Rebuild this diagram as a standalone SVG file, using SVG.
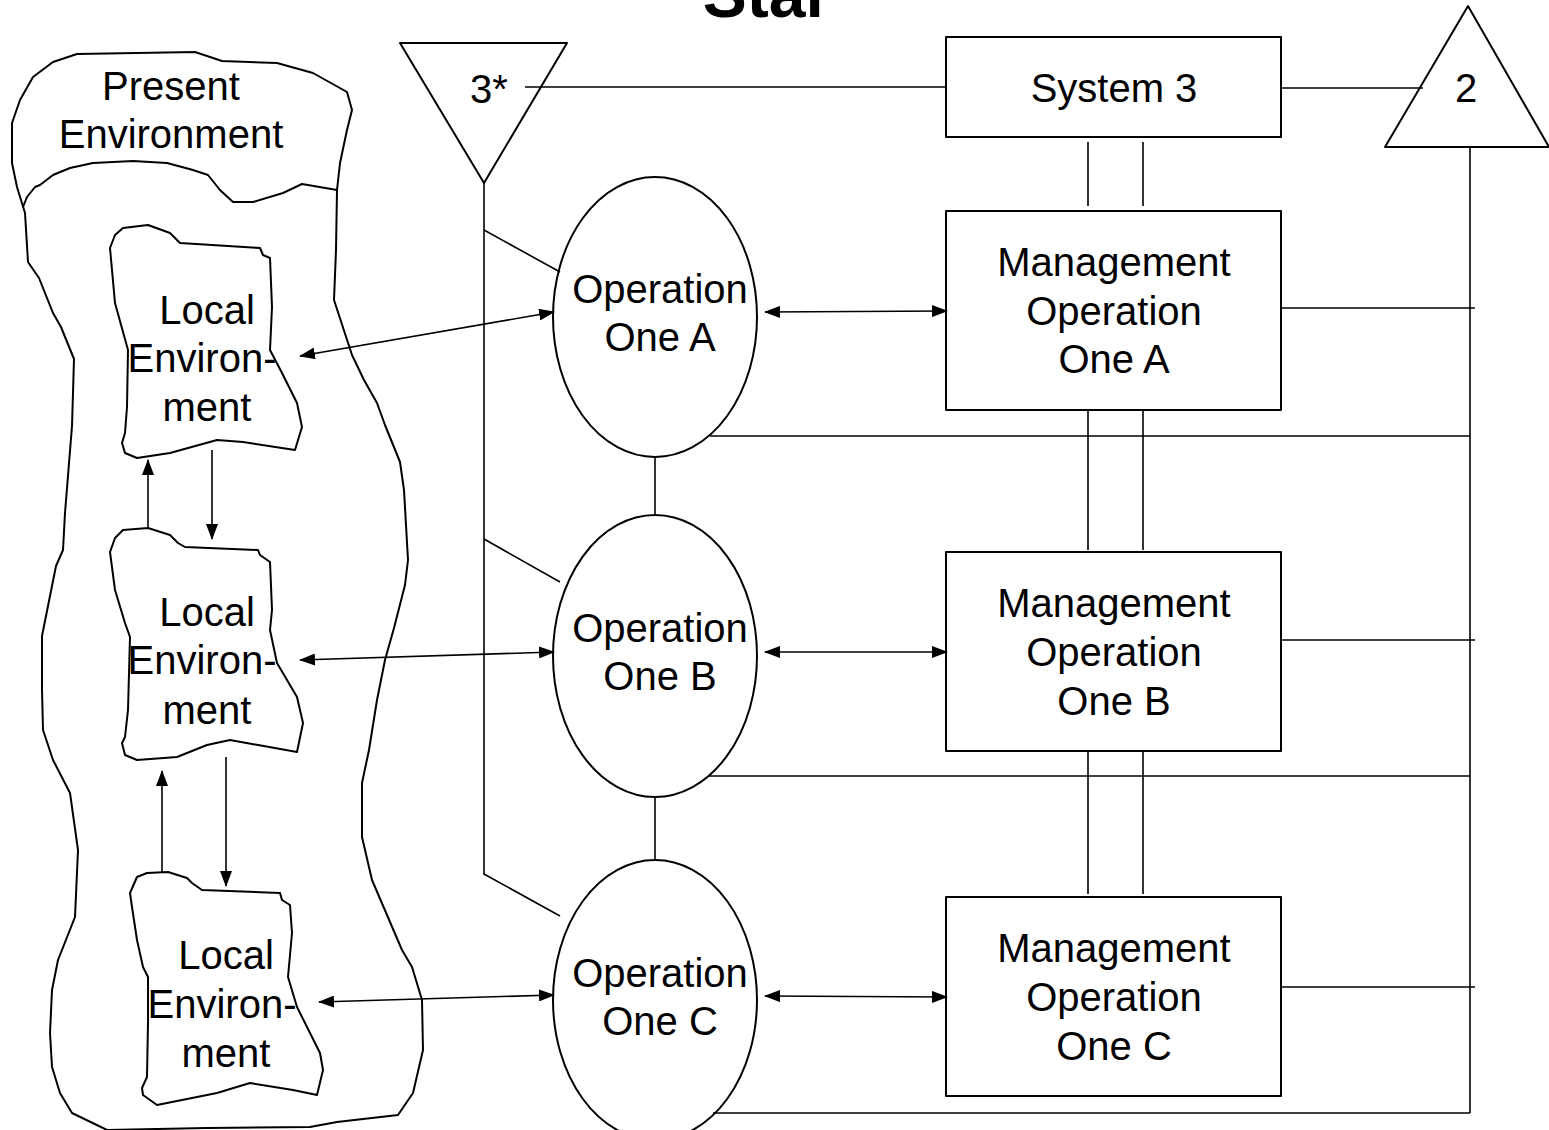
<svg xmlns="http://www.w3.org/2000/svg" width="1549" height="1130" viewBox="0 0 1549 1130">
<style>
.s{fill:none;stroke:#000;stroke-width:2;stroke-linejoin:round}
.b{fill:#fff;stroke:#000;stroke-width:2;stroke-linejoin:round}
.c{fill:none;stroke:#000;stroke-width:1.6}
.t{font-family:"Liberation Sans",Arial,sans-serif;font-size:40px;text-anchor:middle;fill:#000}
.h{font-family:"Liberation Sans",Arial,sans-serif;font-size:66px;font-weight:bold;text-anchor:middle;fill:#000}
</style>
<defs>
<marker id="ah" markerUnits="userSpaceOnUse" markerWidth="16" markerHeight="12" refX="15" refY="6" orient="auto-start-reverse">
<path d="M0,0 L16,6 L0,12 Z" fill="#000"/>
</marker>
</defs>
<rect width="1549" height="1130" fill="#fff"/>
<text class="h" x="767" y="17">Star</text>

<g id="present-environment">
<path class="s" d="M12,123 L20,100 L33,77 L53,62 L77,54 L195,52 L222,61 L277,63 L313,73 L347,92 L352,110 L347,130 L340,163 L337,190 L336,250 L334,300 L352,355 L364,380 L377,403 L385,425 L400,462 L404,490 L408,560 L405,585 L394,628 L385,660 L377,700 L369,750 L362,783 L362,837 L372,880 L402,950 L412,967 L422,1000 L423,1050 L413,1093 L398,1115 L337,1122 L310,1127 L207,1128 L107,1130 L72,1113 L60,1093 L52,1067 L50,1033 L52,990 L58,960 L75,917 L78,850 L70,793 L53,760 L43,730 L42,689 L42,636 L56,566 L63,550 L65,513 L72,426 L74,359 L61,327 L53,313 L39,278 L28,262 L25,213 L17,187 L12,163 Z"/>
<path class="s" d="M23,207 L27,197 L35,187 L40,185 L53,175 L70,168 L93,163 L133,161 L167,163 L193,170 L208,175 L220,190 L233,202 L253,202 L283,193 L302,184 L337,190"/>
<text class="t" x="171" y="100">Present</text>
<text class="t" x="171" y="148">Environment</text>
</g>

<g id="local-env-1">
<path class="b" d="M110,248 L115,235 L123,228 L148,225 L170,233 L180,243 L260,248 L263,255 L270,258 L272,307 L270,350 L282,373 L297,403 L302,427 L295,450 L243,442 L217,440 L170,453 L137,458 L125,453 L122,443 L125,433 L127,407 L128,350 L115,303 Z"/>
<text class="t" x="207" y="324">Local</text>
<text class="t" x="202" y="372">Environ-</text>
<text class="t" x="207" y="421">ment</text>
</g>

<g id="local-env-2">
<path class="b" d="M110,552 L115,538 L123,530 L148,528 L170,535 L178,543 L185,547 L258,550 L260,555 L270,562 L272,610 L270,630 L277,663 L297,697 L303,723 L297,752 L230,740 L207,745 L177,757 L137,760 L125,755 L122,743 L125,737 L128,710 L130,637 L125,623 L115,590 Z"/>
<text class="t" x="207" y="626">Local</text>
<text class="t" x="202" y="674">Environ-</text>
<text class="t" x="207" y="724">ment</text>
</g>

<g id="local-env-3">
<path class="b" d="M130,893 L137,877 L147,873 L168,872 L187,878 L192,883 L202,890 L280,893 L282,900 L290,905 L292,933 L288,977 L297,1007 L320,1053 L323,1070 L317,1095 L293,1090 L250,1083 L217,1093 L157,1105 L143,1095 L142,1088 L147,1077 L148,1023 L148,977 L143,967 L137,940 L132,907 Z"/>
<text class="t" x="226" y="969">Local</text>
<text class="t" x="222" y="1018">Environ-</text>
<text class="t" x="226" y="1067">ment</text>
</g>

<g id="system-3-star">
<path class="b" d="M400,43 L567,43 L484,183 Z"/>
<text class="t" x="489" y="103">3*</text>
</g>

<g id="system-2">
<path class="b" d="M1468,6 L1549,147 L1385,147 Z"/>
<text class="t" x="1466" y="102">2</text>
</g>

<g id="system-3">
<rect class="b" x="946" y="37" width="335" height="100"/>
<text class="t" x="1114" y="102">System 3</text>
</g>

<g id="operation-a">
<ellipse class="b" cx="655" cy="317" rx="102" ry="140"/>
<text class="t" x="660" y="303">Operation</text>
<text class="t" x="660" y="351">One A</text>
</g>
<g id="operation-b">
<ellipse class="b" cx="655" cy="656" rx="102" ry="141"/>
<text class="t" x="660" y="642">Operation</text>
<text class="t" x="660" y="690">One B</text>
</g>
<g id="operation-c">
<ellipse class="b" cx="655" cy="1000" rx="102" ry="140"/>
<text class="t" x="660" y="987">Operation</text>
<text class="t" x="660" y="1035">One C</text>
</g>

<g id="management-a">
<rect class="b" x="946" y="211" width="335" height="199"/>
<text class="t" x="1114" y="276">Management</text>
<text class="t" x="1114" y="325">Operation</text>
<text class="t" x="1114" y="373">One A</text>
</g>
<g id="management-b">
<rect class="b" x="946" y="552" width="335" height="199"/>
<text class="t" x="1114" y="617">Management</text>
<text class="t" x="1114" y="666">Operation</text>
<text class="t" x="1114" y="715">One B</text>
</g>
<g id="management-c">
<rect class="b" x="946" y="897" width="335" height="199"/>
<text class="t" x="1114" y="962">Management</text>
<text class="t" x="1114" y="1011">Operation</text>
<text class="t" x="1114" y="1060">One C</text>
</g>

<g id="connectors">
<line class="c" x1="148" y1="528" x2="148" y2="460" marker-end="url(#ah)"/>
<line class="c" x1="212" y1="450" x2="212" y2="539" marker-end="url(#ah)"/>
<line class="c" x1="162" y1="873" x2="162" y2="771" marker-end="url(#ah)"/>
<line class="c" x1="226" y1="757" x2="226" y2="886" marker-end="url(#ah)"/>
<line class="c" x1="300" y1="356" x2="554" y2="312" marker-start="url(#ah)" marker-end="url(#ah)"/>
<line class="c" x1="300" y1="660" x2="554" y2="652" marker-start="url(#ah)" marker-end="url(#ah)"/>
<line class="c" x1="319" y1="1002" x2="554" y2="995" marker-start="url(#ah)" marker-end="url(#ah)"/>
<line class="c" x1="765" y1="312" x2="947" y2="311" marker-start="url(#ah)" marker-end="url(#ah)"/>
<line class="c" x1="765" y1="652" x2="947" y2="652" marker-start="url(#ah)" marker-end="url(#ah)"/>
<line class="c" x1="765" y1="996" x2="947" y2="997" marker-start="url(#ah)" marker-end="url(#ah)"/>
<line class="c" x1="525" y1="87" x2="946" y2="87"/>
<line class="c" x1="484" y1="183" x2="484" y2="875"/>
<line class="c" x1="484" y1="230" x2="560" y2="272"/>
<line class="c" x1="484" y1="539" x2="560" y2="582"/>
<line class="c" x1="484" y1="874" x2="560" y2="916"/>
<line class="c" x1="655" y1="457" x2="655" y2="515"/>
<line class="c" x1="655" y1="797" x2="655" y2="860"/>
<line class="c" x1="1088" y1="142" x2="1088" y2="206"/>
<line class="c" x1="1143" y1="142" x2="1143" y2="206"/>
<line class="c" x1="1088" y1="410" x2="1088" y2="550"/>
<line class="c" x1="1143" y1="410" x2="1143" y2="550"/>
<line class="c" x1="1088" y1="752" x2="1088" y2="894"/>
<line class="c" x1="1143" y1="752" x2="1143" y2="894"/>
<line class="c" x1="1281" y1="88" x2="1423" y2="88"/>
<line class="c" x1="1470" y1="147" x2="1470" y2="1113"/>
<line class="c" x1="1281" y1="308" x2="1475" y2="308"/>
<line class="c" x1="1281" y1="640" x2="1475" y2="640"/>
<line class="c" x1="1281" y1="987" x2="1475" y2="987"/>
<line class="c" x1="710" y1="436" x2="1470" y2="436"/>
<line class="c" x1="708" y1="776" x2="1470" y2="776"/>
<line class="c" x1="713" y1="1113" x2="1470" y2="1113"/>
</g>
</svg>
